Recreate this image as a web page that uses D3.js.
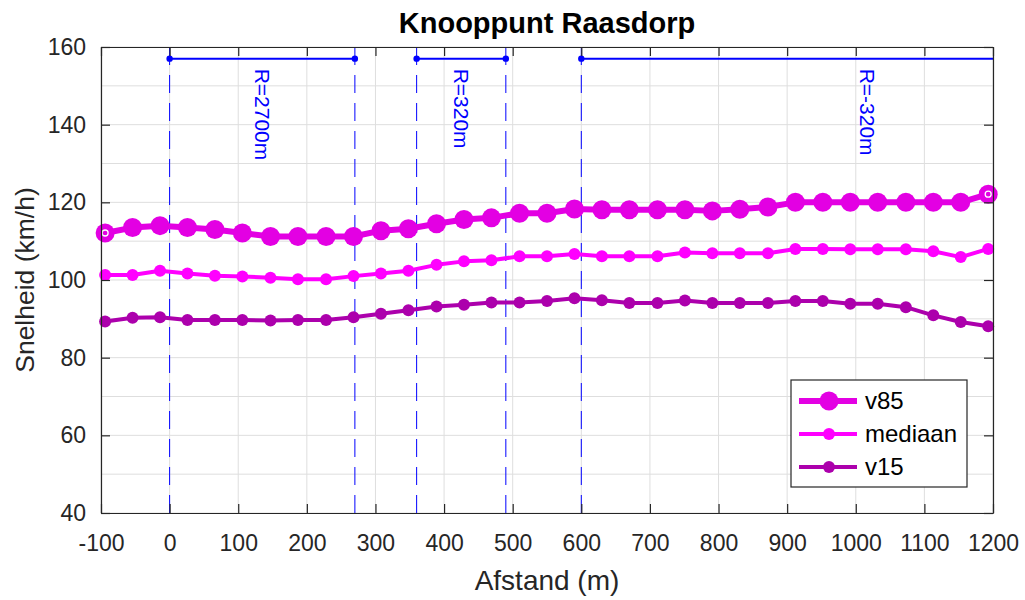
<!DOCTYPE html>
<html>
<head>
<meta charset="utf-8">
<script src="https://cdn.jsdelivr.net/npm/d3@7"></script>
<style>
  body { margin: 0; background: #fff; }
  svg { display: block; font-family: "Liberation Sans", Arial, sans-serif; }
</style>
</head>
<body>
<div id="chart"></div>
<script>
// afstand van elk meetpunt (m)
const afstand = [-94, -54, -14, 26, 66, 106, 147, 187, 228, 268, 308, 348, 389, 429, 469, 510, 550,
                 590, 630, 670, 711, 751, 791, 831, 872, 912, 952, 992, 1032, 1073, 1113, 1153, 1193]

const v85 = [112.1, 113.5, 114.0, 113.5, 113.0, 112.1, 111.2, 111.2, 111.2, 111.2, 112.7, 113.2, 114.5,
             115.6, 116.0, 117.2, 117.2, 118.3, 118.1, 118.1, 118.1, 118.1, 117.8, 118.2, 118.8, 120.0,
             120.0, 120.0, 120.0, 120.0, 120.0, 120.0, 122.1]

const mediaan = [101.3, 101.3, 102.4, 101.7, 101.1, 100.9, 100.6, 100.2, 100.2, 101.0, 101.7, 102.4, 103.9,
                 104.8, 105.1, 106.1, 106.1, 106.7, 106.1, 106.1, 106.1, 107.1, 106.9, 106.9, 106.9, 108.0,
                 108.0, 107.9, 107.9, 107.9, 107.4, 105.9, 108.0]

const v15 = [89.3, 90.3, 90.4, 89.7, 89.7, 89.7, 89.6, 89.7, 89.7, 90.4, 91.3, 92.2, 93.2,
             93.6, 94.2, 94.2, 94.6, 95.3, 94.8, 94.1, 94.1, 94.7, 94.1, 94.1, 94.1, 94.6,
             94.6, 93.9, 93.9, 93.0, 90.9, 89.2, 88.1]

// bogen: begin, eind en straal
const bogenStart = [0, 360, 600]
const bogenEind = [270, 490, 1435]
const bogenLabel = ["R=2700m", "R=320m", "R=-320m"]
const boogHoogte = 157

const xTicks = [-100, 0, 100, 200, 300, 400, 500, 600, 700, 800, 900, 1000, 1100, 1200]
const yTicks = [40, 60, 80, 100, 120, 140, 160]

const series = [
  { name: "v85", values: v85, color: "#e300e3", lineWidth: 6, r: 9.5 },
  { name: "mediaan", values: mediaan, color: "#ff00ff", lineWidth: 4, r: 6 },
  { name: "v15", values: v15, color: "#ac00ac", lineWidth: 4, r: 6 }
]

const width = 1025
const height = 600
const margin = { top: 47, right: 32, bottom: 87, left: 101 }
const axisColor = "#262626"

const svg = d3.select("#chart")
              .append("svg")
              .attr("width", width)
              .attr("height", height)

const x = d3.scaleLinear()
            .domain([-100, 1200])
            .range([margin.left, width - margin.right])

const y = d3.scaleLinear()
            .domain([40, 160])
            .range([height - margin.bottom, margin.top])

svg.append("clipPath")
   .attr("id", "plot-clip")
   .append("rect")
   .attr("x", margin.left)
   .attr("y", margin.top)
   .attr("width", x.range()[1] - x.range()[0])
   .attr("height", y.range()[0] - y.range()[1])

// raster
svg.append("g")
   .attr("stroke", "#dedede")
   .attr("stroke-width", 1)
   .call(g => g.selectAll("line.gx")
               .data(xTicks)
               .join("line")
               .attr("x1", d => x(d)).attr("x2", d => x(d))
               .attr("y1", y(40)).attr("y2", y(160)))
   .call(g => g.selectAll("line.gy")
               .data(d3.range(40, 161, 10))
               .join("line")
               .attr("class", "gy")
               .attr("y1", d => y(d)).attr("y2", d => y(d))
               .attr("x1", x(-100)).attr("x2", x(1200)))

// bogen
const bogen = svg.append("g")
                 .attr("clip-path", "url(#plot-clip)")

const grenzen = bogenStart.concat(bogenEind.slice(0, 2))

bogen.selectAll("line.grens")
     .data(grenzen)
     .join("line")
     .attr("class", "grens")
     .attr("x1", d => x(d)).attr("x2", d => x(d))
     .attr("y1", y(160)).attr("y2", y(40))
     .attr("stroke", "#0000ff")
     .attr("stroke-width", 1)
     .attr("stroke-dasharray", "18,10")

bogen.selectAll("line.boog")
     .data(bogenStart)
     .join("line")
     .attr("class", "boog")
     .attr("x1", d => x(d))
     .attr("x2", (d, i) => x(bogenEind[i]))
     .attr("y1", y(boogHoogte)).attr("y2", y(boogHoogte))
     .attr("stroke", "#0000ff")
     .attr("stroke-width", 2)

bogen.selectAll("circle")
     .data(bogenStart.concat(bogenEind))
     .join("circle")
     .attr("cx", d => x(d))
     .attr("cy", y(boogHoogte))
     .attr("r", 3.2)
     .attr("fill", "#0000ff")

bogen.selectAll("text")
     .data(bogenLabel)
     .join("text")
     .attr("transform", (d, i) => `translate(${x((bogenStart[i] + bogenEind[i]) / 2)},${y(boogHoogte) + 10}) rotate(90)`)
     .attr("dy", "0.35em")
     .attr("fill", "#0000ff")
     .attr("font-size", 21)
     .text(d => d)

// lijnen met markers
const line = d3.line()
               .x((d, i) => x(afstand[i]))
               .y(d => y(d))

series.forEach(s => {
  const g = svg.append("g")
  g.append("path")
   .datum(s.values)
   .attr("d", line)
   .attr("fill", "none")
   .attr("stroke", s.color)
   .attr("stroke-width", s.lineWidth)
   .attr("stroke-linejoin", "round")
  g.selectAll("circle")
   .data(s.values)
   .join("circle")
   .attr("cx", (d, i) => x(afstand[i]))
   .attr("cy", d => y(d))
   .attr("r", s.r)
   .attr("fill", s.color)
})

// open marker op begin en eind van v85
svg.append("g")
   .selectAll("circle")
   .data([0, v85.length - 1])
   .join("circle")
   .attr("cx", i => x(afstand[i]))
   .attr("cy", i => y(v85[i]))
   .attr("r", 3)
   .attr("fill", "none")
   .attr("stroke", "#fff")
   .attr("stroke-width", 1.3)

// assen
const fmt = d => String(d)

const xAxis = g => g.attr("transform", `translate(0,${y(40)})`)
                    .call(d3.axisBottom(x).tickValues(xTicks).tickFormat(fmt).tickSizeInner(-9).tickSizeOuter(0).tickPadding(22))

const xAxisTop = g => g.attr("transform", `translate(0,${y(160)})`)
                       .call(d3.axisTop(x).tickValues(xTicks).tickSizeInner(-9).tickSizeOuter(0).tickFormat(""))

const yAxis = g => g.attr("transform", `translate(${x(-100)},0)`)
                    .call(d3.axisLeft(y).tickValues(yTicks).tickFormat(fmt).tickSizeInner(-9).tickSizeOuter(0).tickPadding(15))

const yAxisRight = g => g.attr("transform", `translate(${x(1200)},0)`)
                         .call(d3.axisRight(y).tickValues(yTicks).tickSizeInner(-9).tickSizeOuter(0).tickFormat(""))

;[xAxis, xAxisTop, yAxis, yAxisRight].forEach(a => {
  svg.append("g")
     .call(a)
     .call(g => g.selectAll("path, line").attr("stroke", axisColor).attr("stroke-width", 1.2))
     .call(g => g.selectAll("text").attr("fill", axisColor).attr("font-size", 23).attr("font-family", "Liberation Sans, Arial, sans-serif"))
})

// titel en aslabels
svg.append("text")
   .attr("x", (x(-100) + x(1200)) / 2)
   .attr("y", 33)
   .attr("text-anchor", "middle")
   .attr("font-weight", "bold")
   .attr("font-size", 29)
   .attr("fill", "#000")
   .text("Knooppunt Raasdorp")

svg.append("text")
   .attr("x", (x(-100) + x(1200)) / 2)
   .attr("y", 590)
   .attr("text-anchor", "middle")
   .attr("font-size", 28)
   .attr("fill", axisColor)
   .text("Afstand (m)")

svg.append("text")
   .attr("transform", `translate(34,${(y(40) + y(160)) / 2}) rotate(-90)`)
   .attr("text-anchor", "middle")
   .attr("font-size", 26.5)
   .attr("fill", axisColor)
   .text("Snelheid (km/h)")

// legenda
const legend = svg.append("g")
                  .attr("transform", "translate(791,380)")

legend.append("rect")
      .attr("width", 176)
      .attr("height", 107)
      .attr("fill", "#fff")
      .attr("stroke", axisColor)
      .attr("stroke-width", 1.2)

const item = legend.selectAll("g")
                   .data(series)
                   .join("g")
                   .attr("transform", (d, i) => `translate(0,${21 + i * 33})`)

item.append("line")
    .attr("x1", 8).attr("x2", 66)
    .attr("stroke", d => d.color)
    .attr("stroke-width", d => d.lineWidth)

item.append("circle")
    .attr("cx", 38)
    .attr("r", d => d.r)
    .attr("fill", d => d.color)

item.append("text")
    .attr("x", 74)
    .attr("dy", "0.35em")
    .attr("font-size", 24)
    .attr("fill", "#000")
    .text(d => d.name)
</script>
</body>
</html>
